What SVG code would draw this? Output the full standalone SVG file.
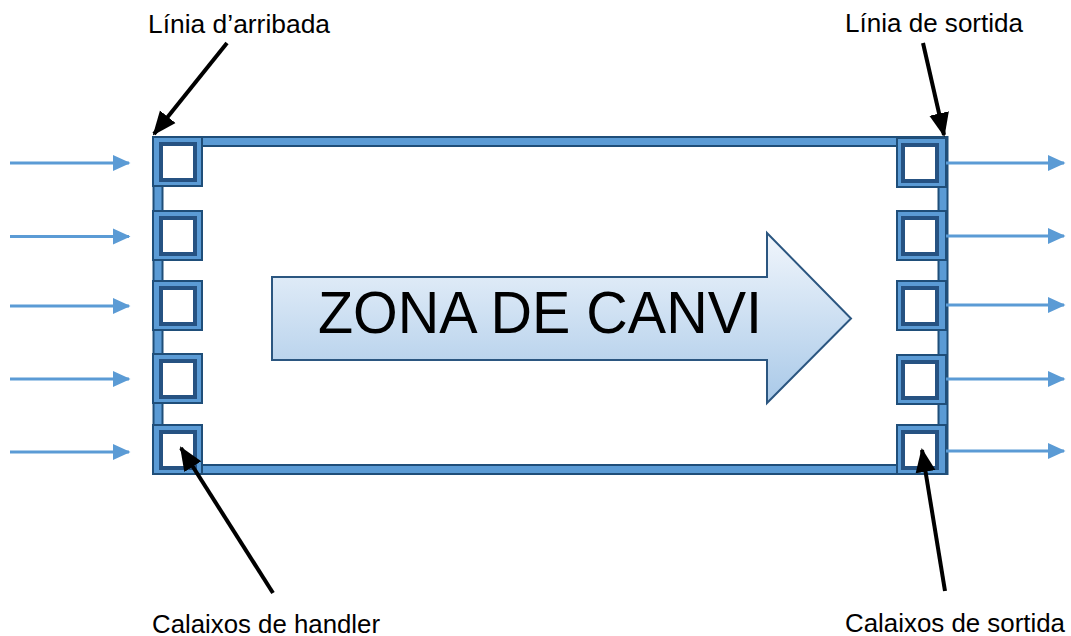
<svg xmlns="http://www.w3.org/2000/svg" width="1071" height="636" viewBox="0 0 1071 636">
<defs>
<style>
.lbl{font-family:"Liberation Sans",Arial,sans-serif;font-size:25px;fill:#000}
.big{font-family:"Liberation Sans",Arial,sans-serif;font-size:60px;fill:#000}
.flow{stroke:#5b9bd5;stroke-width:3;fill:none;marker-end:url(#bh)}
.ann{stroke:#000;stroke-width:4;fill:none;marker-end:url(#kh)}
.bo{fill:#5b9bd5;stroke:#1f4e79;stroke-width:2}
.bi{fill:#fff;stroke:#265282;stroke-width:4}
</style>
<marker id="bh" markerWidth="6" markerHeight="6" refX="5.5" refY="2.75" orient="auto" markerUnits="strokeWidth" viewBox="0 0 6 5.5">
<path d="M0,0 L6,2.75 L0,5.5 z" fill="#5b9bd5"/>
</marker>
<marker id="kh" markerWidth="6" markerHeight="6" refX="5.5" refY="2.5" orient="auto" markerUnits="strokeWidth" viewBox="0 0 6 5">
<path d="M0,0 L6,2.5 L0,5 z" fill="#000"/>
</marker>
<linearGradient id="ag" x1="0" y1="0" x2="0" y2="1">
<stop offset="0" stop-color="#f1f6fc"/>
<stop offset="1" stop-color="#a9c9e8"/>
</linearGradient>
</defs>
<g id="frame">
<rect x="158" y="141.5" width="785" height="328" fill="none" stroke="#1f4e79" stroke-width="11"/>
<rect x="158" y="141.5" width="785" height="328" fill="none" stroke="#5b9bd5" stroke-width="7"/>
</g>
<g id="left-boxes">
<g id="lb1"><rect class="bo" x="153" y="137" width="49" height="49"/><rect class="bi" x="161" y="144" width="34" height="36"/></g>
<g id="lb2"><rect class="bo" x="153" y="211" width="49" height="49"/><rect class="bi" x="161" y="218" width="34" height="36"/></g>
<g id="lb3"><rect class="bo" x="153" y="281" width="49" height="49"/><rect class="bi" x="161" y="288" width="34" height="36"/></g>
<g id="lb4"><rect class="bo" x="153" y="354" width="49" height="49"/><rect class="bi" x="161" y="361" width="34" height="36"/></g>
<g id="lb5"><rect class="bo" x="153" y="425" width="49" height="49"/><rect class="bi" x="161" y="432" width="34" height="36"/></g>
</g>
<g id="right-boxes">
<g id="rb1"><rect class="bo" x="897" y="138" width="49" height="49"/><rect class="bi" x="903" y="145" width="34" height="36"/></g>
<g id="rb2"><rect class="bo" x="897" y="211" width="49" height="49"/><rect class="bi" x="903" y="218" width="34" height="36"/></g>
<g id="rb3"><rect class="bo" x="897" y="281" width="49" height="49"/><rect class="bi" x="903" y="288" width="34" height="36"/></g>
<g id="rb4"><rect class="bo" x="897" y="355" width="49" height="49"/><rect class="bi" x="903" y="362" width="34" height="36"/></g>
<g id="rb5"><rect class="bo" x="897" y="425" width="49" height="49"/><rect class="bi" x="903" y="432" width="34" height="36"/></g>
</g>
<g id="zona">
<path d="M272,277 L767,277 L767,233 L851,318.5 L767,403 L767,360 L272,360 Z" fill="url(#ag)" stroke="#2b5680" stroke-width="2"/>
<text class="big" x="318" y="333" textLength="444" lengthAdjust="spacingAndGlyphs">ZONA DE CANVI</text>
</g>
<g id="connectors">
<line class="flow" x1="10" y1="163" x2="129" y2="163"/>
<line class="flow" x1="10" y1="236.5" x2="129" y2="236.5"/>
<line class="flow" x1="10" y1="306" x2="129" y2="306"/>
<line class="flow" x1="10" y1="379" x2="129" y2="379"/>
<line class="flow" x1="10" y1="452" x2="129" y2="452"/>
<line class="flow" x1="946" y1="163" x2="1064" y2="163"/>
<line class="flow" x1="946" y1="236" x2="1064" y2="236"/>
<line class="flow" x1="946" y1="305" x2="1064" y2="305"/>
<line class="flow" x1="946" y1="379" x2="1064" y2="379"/>
<line class="flow" x1="946" y1="451" x2="1064" y2="451"/>
<line class="ann" x1="227" y1="43" x2="154" y2="134"/>
<line class="ann" x1="923" y1="43" x2="944" y2="135"/>
<line class="ann" x1="273" y1="593" x2="181" y2="448"/>
<line class="ann" x1="945" y1="591" x2="922" y2="450"/>
</g>
<g id="labels">
<text class="lbl" x="148" y="33" textLength="182" lengthAdjust="spacingAndGlyphs">Línia d’arribada</text>
<text class="lbl" x="845" y="32" textLength="178" lengthAdjust="spacingAndGlyphs">Línia de sortida</text>
<text class="lbl" x="152" y="633" textLength="228" lengthAdjust="spacingAndGlyphs">Calaixos de handler</text>
<text class="lbl" x="845" y="632" textLength="220" lengthAdjust="spacingAndGlyphs">Calaixos de sortida</text>
</g>
</svg>
